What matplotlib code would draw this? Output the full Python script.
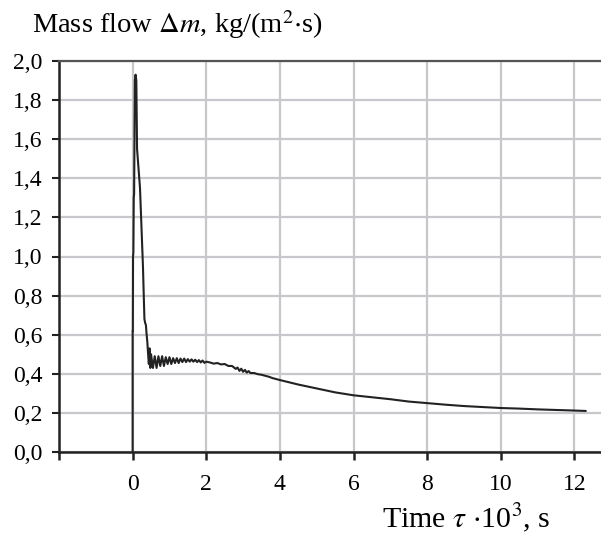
import matplotlib
matplotlib.use('Agg')
import matplotlib.pyplot as plt

# time (x 10^3 s) and mass flow kg/(m2 s)
t = [0.0, 0.0, 0.005, 0.01, 0.02, 0.03, 0.04, 0.05, 0.06, 0.08, 0.10,
     0.12, 0.16, 0.20, 0.24, 0.28, 0.32, 0.34, 0.36, 0.38, 0.40,
     0.42, 0.44, 0.46, 0.48, 0.50, 0.55, 0.60, 0.65, 0.70, 0.75,
     0.80, 0.85, 0.90, 0.95, 1.00, 1.05, 1.10, 1.15, 1.20, 1.25,
     1.30, 1.35, 1.40, 1.45, 1.50, 1.55, 1.60, 1.65, 1.70, 1.75,
     1.80, 1.85, 1.90, 1.95, 2.00, 2.10, 2.20, 2.30, 2.40, 2.50,
     2.60, 2.70, 2.80, 2.85, 2.90, 2.95, 3.00, 3.05, 3.10, 3.15,
     3.20, 3.30, 3.40, 3.50, 3.60, 3.70, 3.80, 3.90, 4.00, 4.50,
     5.00, 5.50, 6.00, 6.50, 7.00, 7.50, 8.00, 8.50, 9.00, 9.50,
     10.0, 10.5, 11.0, 11.5, 12.0, 12.3]
m = [0.0, 0.62, 0.62, 1.0, 1.02, 1.30, 1.32, 1.60, 1.90, 1.93, 1.90,
     1.55, 1.45, 1.35, 1.15, 0.95, 0.68, 0.66, 0.65, 0.60, 0.56,
     0.50, 0.45, 0.53, 0.43, 0.50, 0.43, 0.49, 0.43, 0.49, 0.44,
     0.49, 0.44, 0.485, 0.45, 0.485, 0.45, 0.48, 0.455, 0.48, 0.455,
     0.478, 0.46, 0.478, 0.46, 0.475, 0.462, 0.474, 0.462, 0.472, 0.46,
     0.47, 0.458, 0.468, 0.456, 0.462, 0.458, 0.452, 0.455, 0.448, 0.45,
     0.44, 0.44, 0.425, 0.432, 0.415, 0.426, 0.41, 0.42, 0.406, 0.414,
     0.404, 0.404, 0.398, 0.395, 0.39, 0.385, 0.378, 0.373, 0.368, 0.345,
     0.325, 0.305, 0.29, 0.28, 0.27, 0.258, 0.25, 0.242, 0.235, 0.23,
     0.225, 0.222, 0.218, 0.215, 0.212, 0.21]

x_ticks = [-2, 0, 2, 4, 6, 8, 10, 12]
x_labels = ['', '0', '2', '4', '6', '8', '10', '12']
y_ticks = [0.0, 0.2, 0.4, 0.6, 0.8, 1.0, 1.2, 1.4, 1.6, 1.8, 2.0]
y_labels = [f"{v:.1f}".replace('.', ',') for v in y_ticks]

plt.rcParams['font.family'] = ['Liberation Serif', 'DejaVu Serif']
plt.rcParams['mathtext.fontset'] = 'stix'

fig = plt.figure(figsize=(6.01, 5.40), dpi=100)
ax = fig.add_axes([59 / 601, 88 / 540, 542 / 601, 391 / 540])

ax.plot(t, m, color='#222222', lw=1.5, zorder=3)

ax.set_xlim(-2, 12.72)
ax.set_ylim(0, 2.0)
ax.set_xticks(x_ticks)
ax.set_xticklabels(x_labels, fontsize=17)
ax.set_yticks(y_ticks)
ax.set_yticklabels(y_labels, fontsize=17)

ax.grid(True, color='#c8c8cc', lw=1.6)
ax.set_axisbelow(True)

for side in ['left', 'bottom']:
    ax.spines[side].set_color('#222222')
    ax.spines[side].set_linewidth(1.8)
ax.spines['top'].set_color('#555555')
ax.spines['top'].set_linewidth(1.6)
ax.spines['right'].set_visible(False)

ax.tick_params(axis='x', direction='out', length=6, width=1.8,
               color='#222222', pad=10)
ax.tick_params(axis='y', direction='out', length=5, width=1.5,
               color='#222222', pad=7)

fig.text(32 / 601, 1 - 33 / 540, r'Mass flow $\Delta m$, kg/(m$^2$$\cdot$s)',
         fontsize=20.5, va='baseline', ha='left')
fig.text(382 / 601, 1 - 527 / 540, r'Time $\tau$ $\cdot$10$^3$, s',
         fontsize=21.5, va='baseline', ha='left')

fig.savefig('out.png', dpi=100)
